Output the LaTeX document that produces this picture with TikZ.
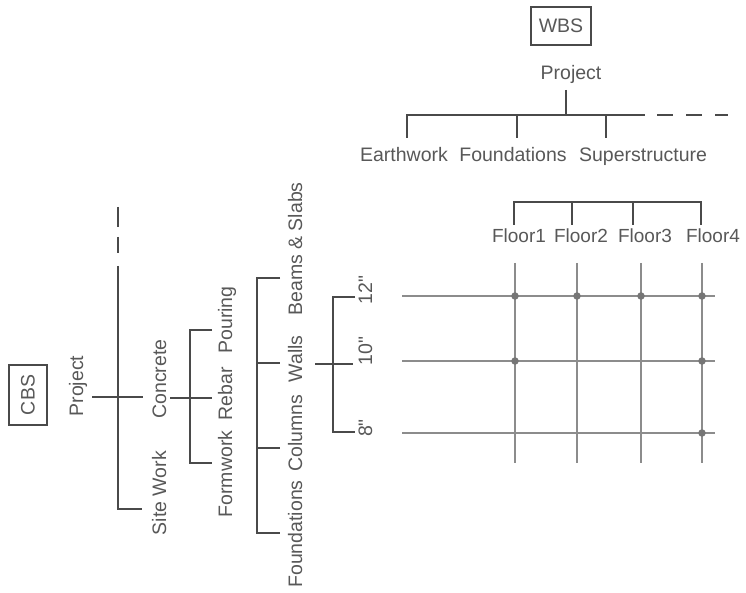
\documentclass[tikz,border=0pt]{standalone}
\usepackage{fontspec}
\setmainfont{Liberation Sans}
% same face without TeX ligature mapping, so that " stays a straight inch mark
\newfontfamily\inchfont{Liberation Sans}
\definecolor{inkline}{HTML}{4A4A4A}
\definecolor{inktext}{HTML}{585858}
\definecolor{gridink}{HTML}{8C8C8C}
\definecolor{dotink}{HTML}{767676}
\begin{document}
\begin{tikzpicture}[x=1pt,y=-1pt,
  lbl/.style={text=inktext, font=\fontsize{19.5}{23}\selectfont, inner sep=0pt, anchor=base},
  floorlbl/.style={lbl, font=\fontsize{19}{23}\selectfont},
  vlbl/.style={lbl, rotate=90},
  inchlbl/.style={vlbl, font=\inchfont\fontsize{19.5}{23}\selectfont},
  titlebox/.style={draw=inkline, line width=2pt, text=inktext,
    font=\fontsize{19.5}{23}\selectfont, inner sep=0pt,
    minimum width=60pt, minimum height=38pt},
  tree/.style={draw=inkline, line width=2.5pt},
  treedash/.style={tree, dash pattern=on 16pt off 13pt},
  gridln/.style={draw=gridink, line width=1.5pt},
  hit/.style={circle, fill=dotink, inner sep=0pt, minimum size=7.5pt}]
\useasboundingbox (0,0) rectangle (746,593);

% ---------- work breakdown structure (top) ----------
\node[titlebox] (wbs) at (561,26) {WBS};
\node[lbl] (wproj) at (571,80) {Project};
\node[lbl] (wearth) at (404,162) {Earthwork};
\node[lbl] (wfound) at (513,162) {Foundations};
\node[lbl] (wsuper) at (643,162) {Superstructure};

\coordinate (w0) at (566,90);
\coordinate (wj) at (566,115);
\coordinate (wl) at (407,115);
\coordinate (wr) at (645,115);
\coordinate (wle) at (407,138);
\coordinate (wf0) at (517,115);
\coordinate (wf1) at (517,138);
\coordinate (ws0) at (606,115);
\coordinate (ws1) at (606,138);
\coordinate (wd0) at (657,115);
\coordinate (wd1) at (728,115);
\draw[tree] (w0) -- (wj);
\draw[tree] (wle) -- (wl) -- (wr);
\draw[tree] (wf0) -- (wf1);
\draw[tree] (ws0) -- (ws1);
\draw[treedash] (wd0) -- (wd1);

% floors
\node[floorlbl] (fl1) at (519,243) {Floor1};
\node[floorlbl] (fl2) at (581,243) {Floor2};
\node[floorlbl] (fl3) at (645,243) {Floor3};
\node[floorlbl] (fl4) at (713,243) {Floor4};
\coordinate (fa0) at (514,225);
\coordinate (fa1) at (514,202);
\coordinate (fd1) at (701,202);
\coordinate (fd0) at (701,225);
\coordinate (fb1) at (572,202);
\coordinate (fb0) at (572,225);
\coordinate (fc1) at (633,202);
\coordinate (fc0) at (633,225);
\draw[tree] (fa0) -- (fa1) -- (fd1) -- (fd0);
\draw[tree] (fb1) -- (fb0);
\draw[tree] (fc1) -- (fc0);

% ---------- cost breakdown structure (left, rotated) ----------
\node[titlebox, rotate=90] (cbs) at (28,395) {CBS};
\node[vlbl] (cproj) at (83,386) {Project};
\node[vlbl] (csite) at (166,493) {Site Work};
\node[vlbl] (cconc) at (166,379) {Concrete};
\node[vlbl] (cform) at (232,474) {Formwork};
\node[vlbl] (crebar) at (232,394) {Rebar};
\node[vlbl] (cpour) at (232,320) {Pouring};
\node[vlbl] (cfound) at (302,534) {Foundations};
\node[vlbl] (ccol) at (302,433) {Columns};
\node[vlbl] (cwall) at (302,359) {Walls};
\node[vlbl] (cbeam) at (302,249) {Beams \& Slabs};
\node[inchlbl] (t12) at (372,290) {12"};
\node[inchlbl] (t10) at (372,351) {10"};
\node[inchlbl] (t8) at (372,428) {8"};

% project level
\coordinate (c0) at (92,397);
\coordinate (c1) at (143,397);
\coordinate (ctop) at (118,266);
\coordinate (cbot) at (118,509);
\coordinate (csw) at (142,509);
\coordinate (cd0) at (118,207);
\coordinate (cd1) at (118,253);
\draw[tree] (c0) -- (c1);
\draw[tree] (ctop) -- (cbot) -- (csw);
\draw[tree, dash pattern=on 20pt off 10pt] (cd0) -- (cd1);

% concrete level
\coordinate (k0) at (170,398);
\coordinate (k1) at (212,398);
\coordinate (kt0) at (212,330);
\coordinate (kt1) at (190,330);
\coordinate (kb1) at (190,463);
\coordinate (kb0) at (212,463);
\draw[tree] (k0) -- (k1);
\draw[tree] (kt0) -- (kt1) -- (kb1) -- (kb0);

% element level
\coordinate (e0) at (280,278);
\coordinate (e1) at (257,278);
\coordinate (e2) at (257,533);
\coordinate (e3) at (280,533);
\coordinate (ew0) at (257,363);
\coordinate (ew1) at (280,363);
\coordinate (ec0) at (257,448);
\coordinate (ec1) at (280,448);
\draw[tree] (e0) -- (e1) -- (e2) -- (e3);
\draw[tree] (ew0) -- (ew1);
\draw[tree] (ec0) -- (ec1);

% thickness level
\coordinate (s0) at (315,364);
\coordinate (s1) at (353,364);
\coordinate (st0) at (355,297);
\coordinate (st1) at (333,297);
\coordinate (sb1) at (333,432);
\coordinate (sb0) at (355,432);
\draw[tree] (s0) -- (s1);
\draw[tree] (st0) -- (st1) -- (sb1) -- (sb0);

% ---------- cost / work matrix ----------
\foreach \r/\yy in {a/296, b/361, c/433} {
  \coordinate (row\r w) at (402,\yy);
  \coordinate (row\r e) at (715,\yy);
  \draw[gridln] (row\r w) -- (row\r e);
}
\foreach \k/\xx in {1/515, 2/577, 3/641, 4/702} {
  \coordinate (col\k n) at (\xx,263);
  \coordinate (col\k s) at (\xx,463);
  \draw[gridln] (col\k n) -- (col\k s);
}
\node[hit] (h1a) at (515,296) {};
\node[hit] (h2a) at (577,296) {};
\node[hit] (h3a) at (641,296) {};
\node[hit] (h4a) at (702,296) {};
\node[hit] (h1b) at (515,361) {};
\node[hit] (h4b) at (702,361) {};
\node[hit] (h4c) at (702,433) {};
\end{tikzpicture}
\end{document}
